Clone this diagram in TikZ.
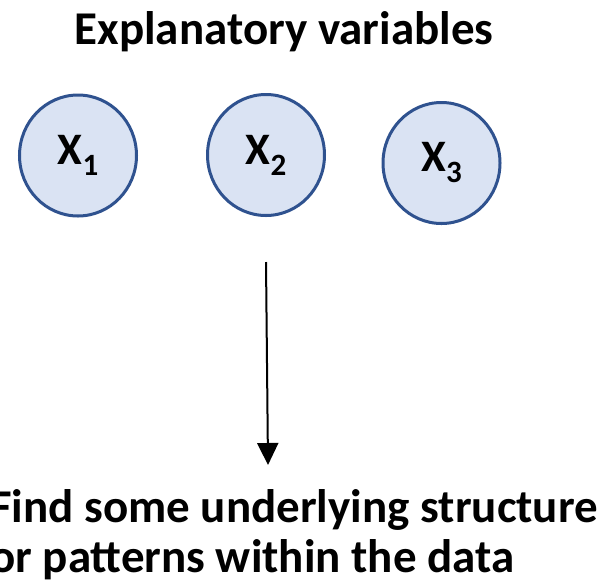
\documentclass[tikz,border=0pt]{standalone}
\usepackage{fontspec}
\setmainfont{Carlito}
\usetikzlibrary{arrows.meta, shapes.geometric}
\definecolor{vblue}{HTML}{2F528F}
\definecolor{vbluelt}{HTML}{DAE3F3}
\newcommand{\xsub}[1]{X\raisebox{-11pt}{\fontsize{31}{31}\selectfont #1}}
\tikzset{
  varnode/.style   = {ellipse, draw=vblue, fill=vbluelt, line width=3pt,
                      minimum width=117pt, minimum height=121pt, inner sep=0pt,
                      font=\fontsize{45}{45}\selectfont\bfseries},
  headlab/.style   = {font=\fontsize{47}{47}\selectfont\bfseries, inner sep=0pt},
  outlab/.style    = {font=\fontsize{47}{50}\selectfont\bfseries, inner sep=0pt,
                      align=left},
  flowarrow/.style = {line width=2pt, -{Triangle[length=22pt, width=21pt]}},
}

\begin{document}
\begin{tikzpicture}[x=1pt, y=-1pt]
  \useasboundingbox (0,0) rectangle (602,587);
  \node[headlab, anchor=base] (title) at (284,44) {Explanatory variables};
  \node[varnode] (x1) at (78,155.5) {\xsub{1}};
  \node[varnode] (x2) at (266,155) {\xsub{2}};
  \node[varnode] (x3) at (441.5,163) {\xsub{3}};
  \coordinate (arrtop) at (266,262);
  \coordinate (arrtip) at (268,465);
  \draw[flowarrow] (arrtop) -- (arrtip);
  % base anchor sits on the last line
  \node[outlab, anchor=base west] (findtext) at (-10,572)
    {Find some underlying structure\\or patterns within the data};
\end{tikzpicture}
\end{document}
